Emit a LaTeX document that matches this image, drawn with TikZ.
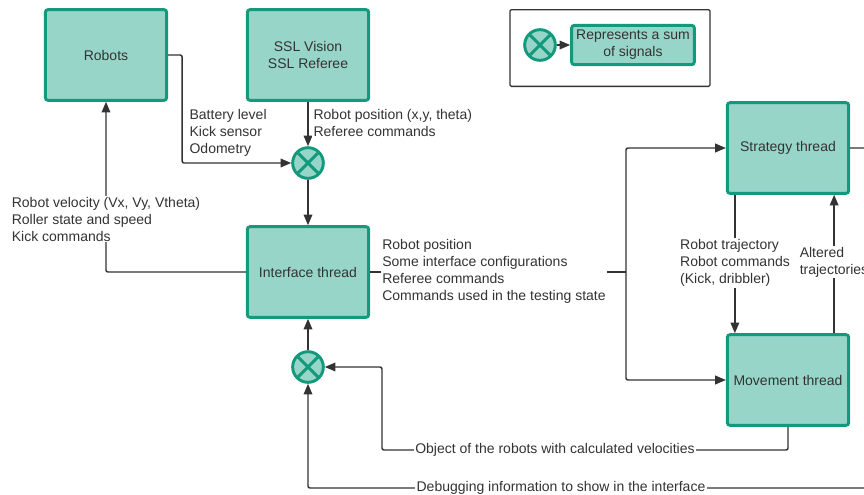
\documentclass[tikz,border=0pt]{standalone}
\usepackage{fontspec}
\setmainfont{Liberation Sans}
\usetikzlibrary{positioning,calc,arrows.meta}

\definecolor{tealfill}{HTML}{98D5C9}
\definecolor{tealline}{HTML}{13997C}
\definecolor{ink}{HTML}{333333}

\begin{document}
\begin{tikzpicture}[
    x=0.75pt, y=-0.75pt,
    font=\fontsize{10.5}{12.75}\selectfont,
    text=ink,
    box/.style={rectangle, draw=tealline, fill=tealfill, line width=2.2pt,
                rounded corners=2pt, minimum width=91pt, minimum height=68pt,
                align=center},
    summer/.style={circle, draw=tealline, fill=tealfill, line width=2.2pt,
                minimum size=23pt, inner sep=0pt,
                path picture={\draw[tealline, line width=2.2pt]
                  (path picture bounding box.north west) -- (path picture bounding box.south east)
                  (path picture bounding box.north east) -- (path picture bounding box.south west);}},
    wire/.style={ink, line width=1.1pt, rounded corners=1.5pt},
    arrow/.style={wire, -{Triangle[length=8pt,width=6.5pt]}},
    lbl/.style={fill=white, align=left, inner sep=1pt}
]
\useasboundingbox (0,0) rectangle (864,494);

% Legend
\node[draw=ink, line width=1pt, rounded corners=1pt, minimum width=150pt,
      minimum height=57.5pt] (legend) at (610,48) {};
\node[summer] (lsum) at (540,45) {};
\node[box, minimum width=92pt, minimum height=29.5pt] (lbox) at (633,45) {Represents a sum\\of signals};
\draw[arrow] (lsum) -- (lbox);

% Blocks
\node[box] (robots) at (106,55) {Robots};
\node[box] (ssl) at (308,55) {SSL Vision\\SSL Referee};
\node[summer] (sum1) at (308,163) {};
\node[box] (iface) at (308,272) {Interface thread};
\node[summer] (sum2) at (308,367) {};
\node[box] (strat) at (788,148) {Strategy thread};
\node[box] (move) at (788,380) {Movement thread};

% Turning points
\coordinate (split) at (626,272);
\coordinate (objturn) at (382,450);
\coordinate (dbgturn) at (900,488);

% Signals into the interface
\draw[arrow] (robots.east) -- ++(14,0) |- (sum1.west);
\draw[arrow] (ssl) -- (sum1);
\draw[arrow] (sum1) -- (iface);
\draw[arrow] (iface.west) -| (robots.south);
\draw[arrow] (sum2) -- (iface);

% Interface to the threads
\draw[wire] (iface.east) -- (split);
\draw[arrow] (split) |- (strat.west);
\draw[arrow] (split) |- (move.west);
\draw[arrow] ([xshift=6.75pt]strat.south west) -- ([xshift=6.75pt]move.north west);
\draw[arrow] ([xshift=-12pt]move.north east) -- ([xshift=-12pt]strat.south east);

% Feedback to the interface
\draw[arrow] (move.south) |- (objturn) |- (sum2.east);
\draw[arrow] (strat.east) -| (dbgturn) -| (sum2.south);

% Labels
\node[lbl, anchor=west] (battlbl) at (188,133) {Battery level\\Kick sensor\\Odometry};
\node[lbl, anchor=west] (posnlbl) at (312,123) {Robot position (x,y, theta)\\Referee commands};
\node[lbl] (vellbl) at (106,219) {Robot velocity (Vx, Vy, Vtheta)\\Roller state and speed\\Kick commands};
\node[lbl] (ifacelbl) at (494,271) {Robot position\\Some interface configurations\\Referee commands\\Commands used in the testing state};
\node[lbl] (trajlbl) at (735,263) {Robot trajectory\\Robot commands\\(Kick, dribbler)};
\node[lbl] (altlbl) at (834,262) {Altered\\trajectories};
\node[lbl] (objlbl) at (555,450) {Object of the robots with calculated velocities};
\node[lbl] (dbglbl) at (561,488) {Debugging information to show in the interface};

\end{tikzpicture}
\end{document}
